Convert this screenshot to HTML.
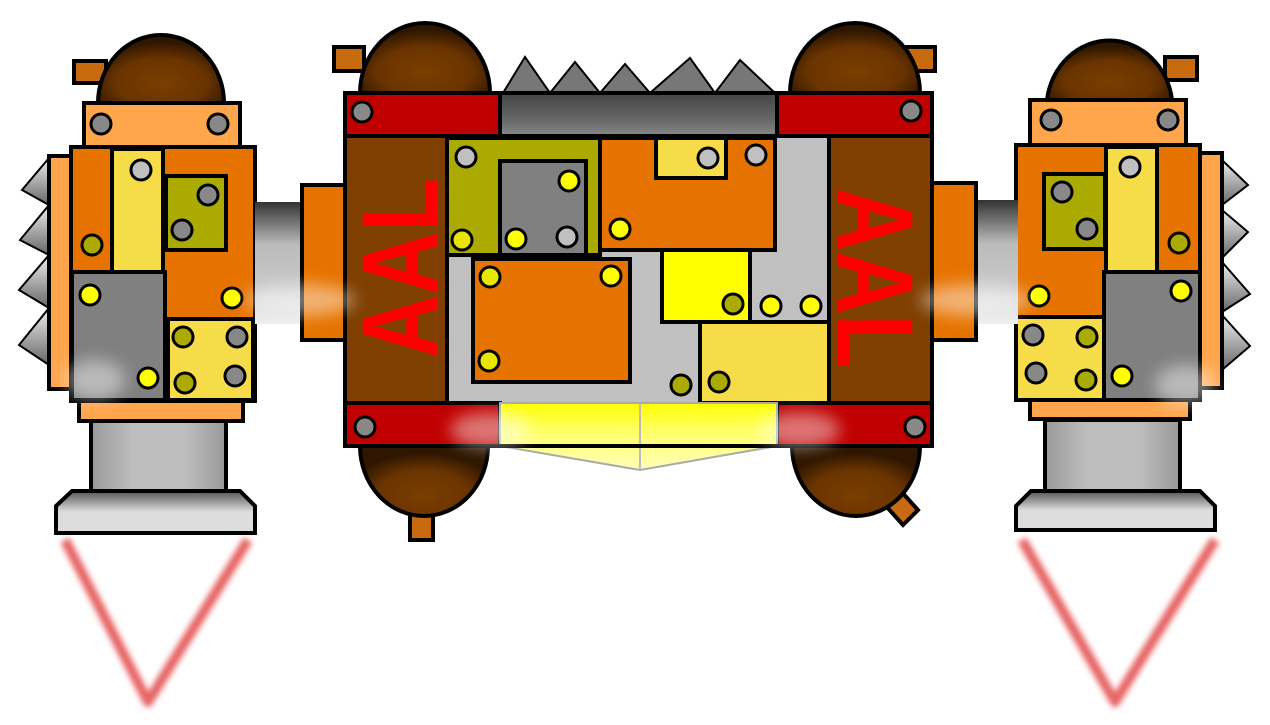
<!DOCTYPE html>
<html><head><style>html,body{margin:0;padding:0;background:#fff;}svg{display:block}</style></head>
<body>
<svg width="1270" height="725" viewBox="0 0 1270 725" xmlns="http://www.w3.org/2000/svg">
<defs>
<filter id="blur" x="-20%" y="-20%" width="140%" height="140%"><feGaussianBlur stdDeviation="3"/></filter>
<filter id="blur2" x="-50%" y="-50%" width="200%" height="200%"><feGaussianBlur stdDeviation="8"/></filter>
<radialGradient id="dome" cx="0.5" cy="0.7" r="0.6"><stop offset="0" stop-color="#7a3e00"/><stop offset="0.6" stop-color="#6a3400"/><stop offset="1" stop-color="#2e1600"/></radialGradient>
<linearGradient id="tube" x1="0" y1="0" x2="0" y2="1"><stop offset="0" stop-color="#333"/><stop offset="0.35" stop-color="#bbb"/><stop offset="0.7" stop-color="#c8c8c8"/><stop offset="1" stop-color="#eee"/></linearGradient>
<linearGradient id="nozzle" x1="0" y1="0" x2="1" y2="0"><stop offset="0" stop-color="#999"/><stop offset="0.3" stop-color="#bdbdbd"/><stop offset="0.7" stop-color="#bdbdbd"/><stop offset="1" stop-color="#999"/></linearGradient>
<linearGradient id="base" x1="0" y1="0" x2="0" y2="1"><stop offset="0" stop-color="#555"/><stop offset="0.5" stop-color="#ddd"/><stop offset="1" stop-color="#ddd"/></linearGradient>
<linearGradient id="spk" x1="0" y1="0" x2="0" y2="1"><stop offset="0" stop-color="#eee"/><stop offset="1" stop-color="#666"/></linearGradient>
<linearGradient id="topgrey" x1="0" y1="0" x2="0" y2="1"><stop offset="0" stop-color="#444"/><stop offset="0.6" stop-color="#666"/><stop offset="1" stop-color="#888"/></linearGradient>
<linearGradient id="yel" x1="0" y1="0" x2="0" y2="1"><stop offset="0" stop-color="#ffff00"/><stop offset="0.4" stop-color="#ffff66"/><stop offset="1" stop-color="#ffffbb"/></linearGradient>
</defs>
<g stroke="#000" stroke-width="4">

<!-- flames -->
<g fill="none" stroke="#e03030" stroke-width="10" stroke-linejoin="round" opacity="0.75" filter="url(#blur)">
<path d="M65 540 L148 702 L248 540"/>
<path d="M1022 540 L1115 702 L1215 540"/>
</g>

<!-- LEFT POD -->
<g id="lpod">
<rect x="74" y="61" width="32" height="22" fill="#c86a10"/>
<path d="M98 103 A63 68 0 0 1 224 103 Z" fill="url(#dome)"/>
<rect x="84" y="103" width="156" height="45" fill="#ffa64d"/>
<rect x="91" y="421" width="135" height="70" fill="url(#nozzle)"/>
<path d="M72 491 L240 491 L255 506 L255 533 L56 533 L56 506 Z" fill="url(#base)"/>
<rect x="79" y="401" width="164" height="20" fill="#ffa64d"/>
<g fill="url(#spk)" stroke-width="2">
<path d="M49 158 L22 190 L49 205 Z"/><path d="M49 205 L20 240 L49 255 Z"/><path d="M49 255 L19 290 L49 308 Z"/><path d="M49 308 L19 345 L49 365 Z"/>
</g>
<rect x="49" y="156" width="22" height="233" fill="#ffa64d"/>
<rect x="71" y="147" width="184" height="254" fill="#e67300"/>
<rect x="112" y="149" width="51" height="123" fill="#f7dc4a"/>
<rect x="166" y="176" width="60" height="74" fill="#aaaa00"/>
<rect x="72" y="272" width="93" height="128" fill="#808080"/>
<rect x="168" y="319" width="85" height="81" fill="#f7dc4a"/>
</g>

<!-- RIGHT POD -->
<g>
<rect x="1165" y="57" width="32" height="23" fill="#c86a10"/>
<path d="M1047 100 A63 68 0 0 1 1172 100 Z" fill="url(#dome)"/>
<rect x="1030" y="100" width="156" height="45" fill="#ffa64d"/>
<rect x="1045" y="420" width="135" height="71" fill="url(#nozzle)"/>
<path d="M1031 491 L1200 491 L1215 506 L1215 530 L1016 530 L1016 506 Z" fill="url(#base)"/>
<rect x="1030" y="400" width="160" height="19" fill="#ffa64d"/>
<g fill="url(#spk)" stroke-width="2">
<path d="M1222 160 L1248 185 L1222 205 Z"/><path d="M1222 210 L1248 232 L1222 258 Z"/><path d="M1222 262 L1250 294 L1222 312 Z"/><path d="M1222 315 L1250 346 L1222 370 Z"/>
</g>
<rect x="1200" y="153" width="22" height="235" fill="#ffa64d"/>
<rect x="1016" y="145" width="184" height="255" fill="#e67300"/>
<rect x="1044" y="174" width="61" height="75" fill="#aaaa00"/>
<rect x="1106" y="147" width="51" height="125" fill="#f7dc4a"/>
<rect x="1104" y="272" width="96" height="128" fill="#808080"/>
<rect x="1016" y="317" width="88" height="83" fill="#f7dc4a"/>
</g>

<!-- ARMS -->
<rect x="255" y="202" width="50" height="122" fill="url(#tube)" stroke="none"/>
<rect x="302" y="185" width="43" height="155" fill="#e67300"/>
<rect x="976" y="200" width="42" height="124" fill="url(#tube)" stroke="none"/>
<rect x="932" y="183" width="44" height="157" fill="#e67300"/>

<!-- CENTER domes -->
<rect x="334" y="47" width="30" height="24" fill="#c86a10"/>
<rect x="905" y="47" width="30" height="24" fill="#c86a10"/>
<path d="M360 93 A65 70 0 0 1 490 93 Z" fill="url(#dome)"/>
<path d="M790 93 A65 70 0 0 1 920 93 Z" fill="url(#dome)"/>
<rect x="410" y="512" width="23" height="28" fill="#c86a10"/>
<path d="M885 505 L900 490 L918 510 L903 525 Z" fill="#c86a10"/>
<path d="M360 446 A64 70 0 0 0 488 446 Z" fill="url(#dome)"/>
<path d="M792 446 A64 70 0 0 0 920 446 Z" fill="url(#dome)"/>

<!-- spikes top -->
<g fill="#777" stroke-width="2">
<path d="M503 93 L525 57 L550 93 Z"/><path d="M550 93 L575 62 L600 93 Z"/><path d="M600 93 L625 64 L650 93 Z"/><path d="M650 93 L690 58 L715 93 Z"/><path d="M715 93 L740 60 L775 93 Z"/>
</g>

<!-- CENTER body -->
<rect x="345" y="93" width="587" height="353" fill="#c0c0c0"/>
<rect x="345" y="93" width="155" height="43" fill="#c00000"/>
<rect x="777" y="93" width="155" height="43" fill="#c00000"/>
<rect x="500" y="93" width="277" height="43" fill="url(#topgrey)"/>
<rect x="345" y="136" width="102" height="267" fill="#7f3f00"/>
<rect x="829" y="136" width="103" height="267" fill="#7f3f00"/>
<rect x="447" y="138" width="153" height="117" fill="#aaaa00"/>
<rect x="500" y="161" width="86" height="94" fill="#808080"/>
<rect x="600" y="138" width="175" height="112" fill="#e67300"/>
<rect x="656" y="138" width="70" height="40" fill="#f7dc4a"/>
<rect x="473" y="259" width="157" height="123" fill="#e67300"/>
<rect x="662" y="250" width="88" height="72" fill="#ffff00"/>
<rect x="700" y="322" width="129" height="81" fill="#f7dc4a"/>
<rect x="345" y="403" width="155" height="43" fill="#c00000"/>
<rect x="777" y="403" width="155" height="43" fill="#c00000"/>
<path d="M500 403 L777 403 L777 446 L640 470 L500 446 Z" fill="url(#yel)" stroke="#aaa" stroke-width="2"/>
<line x1="640" y1="403" x2="640" y2="470" stroke="#bbb" stroke-width="2"/>
<rect x="345" y="93" width="587" height="353" fill="none"/>

<!-- AAL text -->
<text x="0" y="0" transform="translate(437,268) rotate(-90)" text-anchor="middle" font-family="Liberation Sans, sans-serif" font-weight="bold" font-size="108" fill="#ff0000" stroke="none" textLength="180" lengthAdjust="spacingAndGlyphs">AAL</text>
<text x="0" y="0" transform="translate(838,278) rotate(90)" text-anchor="middle" font-family="Liberation Sans, sans-serif" font-weight="bold" font-size="108" fill="#ff0000" stroke="none" textLength="180" lengthAdjust="spacingAndGlyphs">AAL</text>

<!-- bolts -->
<g stroke-width="3">
<g fill="#888">
<circle cx="101" cy="124" r="10"/><circle cx="218" cy="124" r="10"/><circle cx="208" cy="195" r="10"/><circle cx="182" cy="230" r="10"/>
<circle cx="237" cy="337" r="10"/><circle cx="235" cy="376" r="10"/>
<circle cx="1051" cy="120" r="10"/><circle cx="1168" cy="120" r="10"/><circle cx="1062" cy="192" r="10"/><circle cx="1087" cy="229" r="10"/>
<circle cx="1033" cy="335" r="10"/><circle cx="1036" cy="373" r="10"/>
<circle cx="362" cy="112" r="10"/><circle cx="911" cy="111" r="10"/><circle cx="365" cy="427" r="10"/><circle cx="915" cy="427" r="10"/>
</g>
<g fill="#c0c0c0">
<circle cx="141" cy="170" r="10"/><circle cx="1130" cy="167" r="10"/>
<circle cx="466" cy="157" r="10"/><circle cx="567" cy="237" r="10"/><circle cx="708" cy="158" r="10"/><circle cx="756" cy="155" r="10"/>
</g>
<g fill="#ffff00">
<circle cx="90" cy="295" r="10"/><circle cx="148" cy="378" r="10"/><circle cx="232" cy="298" r="10"/>
<circle cx="1039" cy="296" r="10"/><circle cx="1181" cy="291" r="10"/><circle cx="1122" cy="376" r="10"/>
<circle cx="569" cy="181" r="10"/><circle cx="516" cy="239" r="10"/><circle cx="620" cy="229" r="10"/>
<circle cx="611" cy="276" r="10"/><circle cx="771" cy="306" r="10"/><circle cx="811" cy="306" r="10"/>
</g>
<g fill="#e6e600">
<circle cx="462" cy="240" r="10"/><circle cx="490" cy="277" r="10"/><circle cx="489" cy="361" r="10"/>
</g>
<g fill="#aaaa00">
<circle cx="92" cy="245" r="10"/><circle cx="183" cy="337" r="10"/><circle cx="185" cy="383" r="10"/>
<circle cx="1179" cy="243" r="10"/><circle cx="1087" cy="337" r="10"/><circle cx="1086" cy="380" r="10"/>
<circle cx="733" cy="304" r="10"/><circle cx="681" cy="385" r="10"/><circle cx="719" cy="382" r="10"/>
</g>
</g>

<!-- glow blobs -->
<g fill="#fff" opacity="0.45" stroke="none" filter="url(#blur2)">
<ellipse cx="300" cy="300" rx="55" ry="16"/><ellipse cx="975" cy="300" rx="55" ry="16"/>
<ellipse cx="490" cy="430" rx="40" ry="18"/><ellipse cx="800" cy="430" rx="40" ry="18"/>
<ellipse cx="95" cy="380" rx="30" ry="20"/><ellipse cx="1185" cy="385" rx="30" ry="20"/>
</g>
</g>
</svg>
</body></html>
